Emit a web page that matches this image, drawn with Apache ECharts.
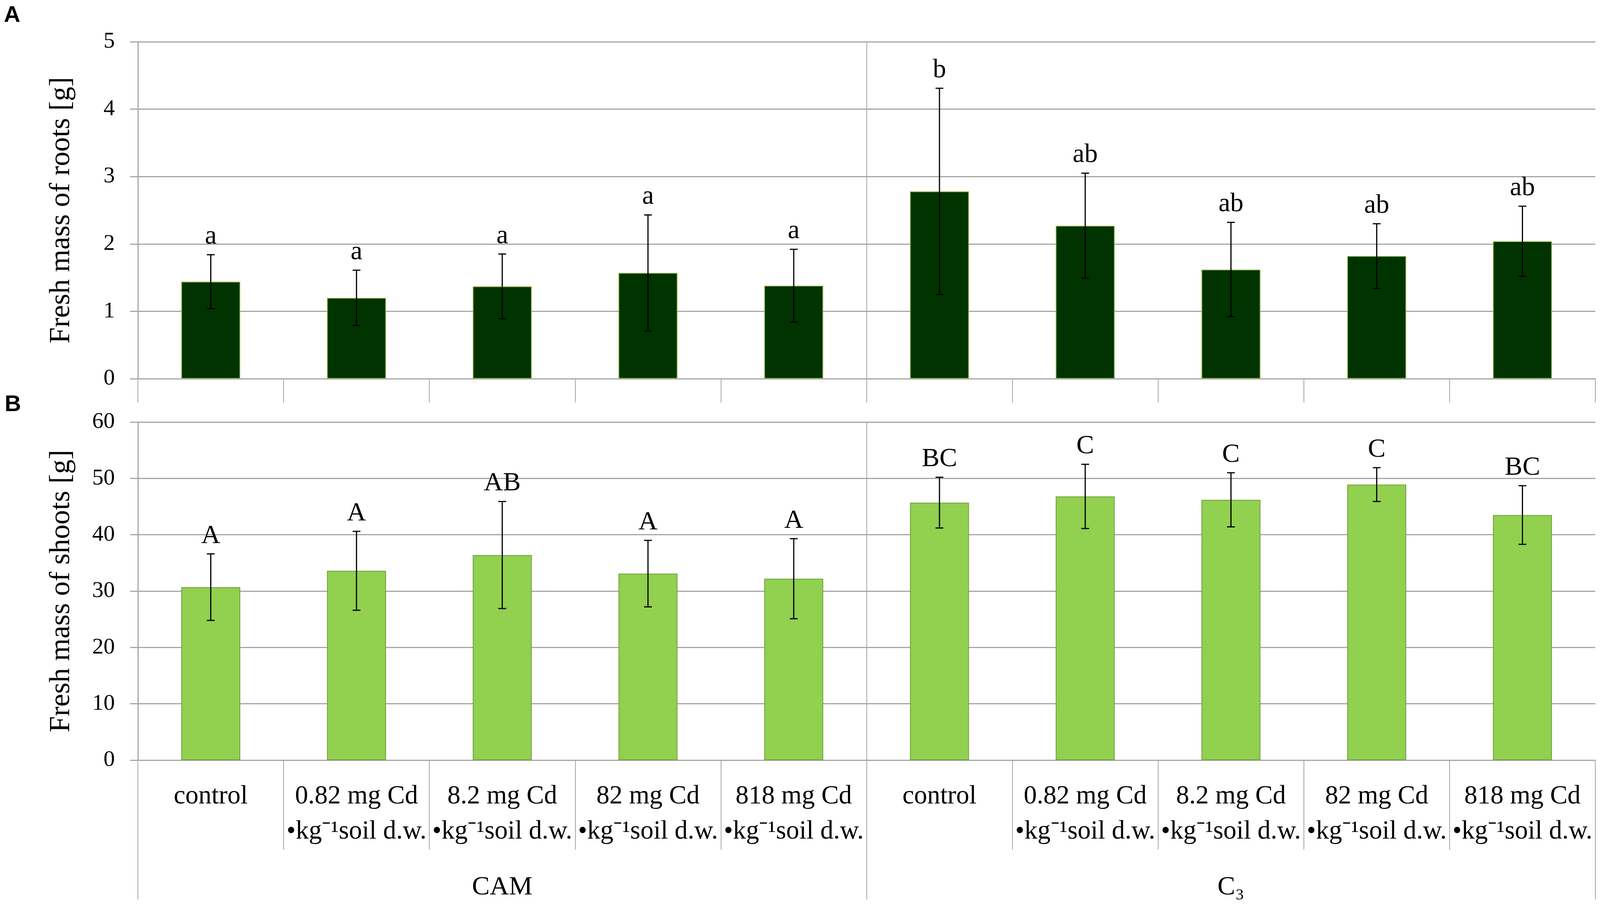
<!DOCTYPE html>
<html>
<head>
<meta charset="utf-8">
<title>Fresh mass of roots and shoots</title>
<script src="https://cdn.jsdelivr.net/npm/echarts@6/dist/echarts.min.js"></script>
<style>
    html, body { margin: 0; padding: 0; background: #fff; overflow: hidden; }
    #chart { width: 100vw; height: 100vh; }
</style>
</head>
<body>
<div id="chart"></div>
<script>
// categories (5 CAM + 5 C3)
var categories = [
    'control\n ',
    '0.82 mg Cd\n•kg⁻¹soil d.w.',
    '8.2 mg Cd\n•kg⁻¹soil d.w.',
    '82 mg Cd\n•kg⁻¹soil d.w.',
    '818 mg Cd\n•kg⁻¹soil d.w.',
    'control\n ',
    '0.82 mg Cd\n•kg⁻¹soil d.w.',
    '8.2 mg Cd\n•kg⁻¹soil d.w.',
    '82 mg Cd\n•kg⁻¹soil d.w.',
    '818 mg Cd\n•kg⁻¹soil d.w.'
];
var groups = ['CAM', 'C₃'];

// panel A - roots
var rootsMean = [1.44, 1.20, 1.37, 1.57, 1.38, 2.78, 2.27, 1.62, 1.82, 2.04];
var rootsErr = [0.40, 0.41, 0.48, 0.86, 0.54, 1.53, 0.78, 0.70, 0.48, 0.52];
var rootsLetters = ['a', 'a', 'a', 'a', 'a', 'b', 'ab', 'ab', 'ab', 'ab'];

// panel B - shoots
var shootsMean = [30.7, 33.6, 36.4, 33.1, 32.2, 45.7, 46.8, 46.2, 48.9, 43.5];
var shootsErr = [5.9, 7.0, 9.5, 5.9, 7.1, 4.5, 5.7, 4.8, 3.0, 5.2];
var shootsLetters = ['A', 'A', 'AB', 'A', 'A', 'BC', 'C', 'C', 'C', 'BC'];

var serif = "'Liberation Serif', 'Times New Roman', serif";
var sans = "'Liberation Sans', Arial, sans-serif";
var gridGray = '#a6a6a6';

var dom = document.getElementById('chart');
// layout is designed for 4550 x 2336, scaled to the real window
var kx = dom.clientWidth / 4550;
var ky = dom.clientHeight / 2336;
var k = Math.min(kx, ky);
function X(v) { return Math.round(v * kx); }
function Y(v) { return Math.round(v * ky); }
function F(v) { return Math.round(v * k); }

function errData(mean, err) {
    var out = [];
    for (var i = 0; i < mean.length; i++) {
        out.push([i, mean[i], err[i]]);
    }
    return out;
}

function errRenderer(letters) {
    return function (params, api) {
        var i = api.value(0);
        var hi = api.coord([i, api.value(1) + api.value(2)]);
        var lo = api.coord([i, api.value(1) - api.value(2)]);
        var w = X(11);
        var st = {stroke: '#000', lineWidth: Math.max(1, F(3))};
        return {
            type: 'group',
            children: [
                {type: 'line', shape: {x1: hi[0], y1: hi[1], x2: lo[0], y2: lo[1]}, style: st},
                {type: 'line', shape: {x1: hi[0] - w, y1: hi[1], x2: hi[0] + w, y2: hi[1]}, style: st},
                {type: 'line', shape: {x1: lo[0] - w, y1: lo[1], x2: lo[0] + w, y2: lo[1]}, style: st},
                {
                    type: 'text',
                    x: hi[0],
                    y: hi[1] - Y(12),
                    style: {
                        text: letters[params.dataIndex],
                        fill: '#000',
                        font: F(76) + 'px ' + serif,
                        align: 'center',
                        verticalAlign: 'bottom'
                    }
                }
            ]
        };
    };
}

function valueAxis(gridIndex, max, interval, name) {
    return {
        type: 'value',
        gridIndex: gridIndex,
        min: 0,
        max: max,
        interval: interval,
        name: name,
        nameLocation: 'middle',
        nameRotate: 90,
        nameGap: X(176),
        nameTextStyle: {fontFamily: serif, fontSize: F(82), color: '#000'},
        axisLine: {show: true, lineStyle: {color: gridGray, width: F(3)}},
        axisTick: {show: true, length: X(22), lineStyle: {color: gridGray, width: F(3)}},
        axisLabel: {fontFamily: serif, fontSize: F(64), color: '#000', margin: X(66)},
        splitLine: {show: true, lineStyle: {color: gridGray, width: F(3)}}
    };
}

var chart = echarts.init(dom);

var option = {
    animation: false,
    backgroundColor: '#fff',
    title: [
        {text: 'A', left: X(6), top: Y(6), textStyle: {fontFamily: sans, fontWeight: 'bold', fontSize: F(64), color: '#000'}},
        {text: 'B', left: X(8), top: Y(1003), textStyle: {fontFamily: sans, fontWeight: 'bold', fontSize: F(64), color: '#000'}}
    ],
    grid: [
        {left: X(392), right: X(13), top: Y(107), height: Y(863)},
        {left: X(392), right: X(13), top: Y(1081), height: Y(866)}
    ],
    xAxis: [
        {
            type: 'category',
            gridIndex: 0,
            data: categories,
            axisLine: {show: true, lineStyle: {color: gridGray, width: F(3)}},
            axisTick: {show: true, interval: 0, length: Y(61), lineStyle: {color: gridGray, width: F(2)}},
            axisLabel: {show: false},
            splitLine: {show: false}
        },
        {
            type: 'category',
            gridIndex: 0,
            data: groups,
            position: 'bottom',
            axisLine: {show: false},
            axisTick: {show: false},
            axisLabel: {show: false},
            splitLine: {show: true, showMinLine: false, showMaxLine: false, interval: 0, lineStyle: {color: gridGray, width: F(2)}}
        },
        {
            type: 'category',
            gridIndex: 1,
            data: categories,
            axisLine: {show: true, lineStyle: {color: gridGray, width: F(3)}},
            axisTick: {show: true, interval: 0, length: Y(229), lineStyle: {color: gridGray, width: F(2)}},
            axisLabel: {interval: 0, fontFamily: serif, fontSize: F(74), lineHeight: Y(90), margin: Y(48), color: '#000'},
            splitLine: {show: false}
        },
        {
            type: 'category',
            gridIndex: 1,
            data: groups,
            position: 'bottom',
            axisLine: {show: false},
            axisTick: {show: true, interval: 0, length: Y(357), lineStyle: {color: gridGray, width: F(2)}},
            axisLabel: {interval: 0, fontFamily: serif, fontSize: F(76), lineHeight: Y(76), margin: Y(288), color: '#000'},
            splitLine: {show: true, showMinLine: false, showMaxLine: false, interval: 0, lineStyle: {color: gridGray, width: F(2)}}
        }
    ],
    yAxis: [
        valueAxis(0, 5, 1, 'Fresh mass of roots [g]'),
        valueAxis(1, 60, 10, 'Fresh mass of shoots [g]')
    ],
    series: [
        {
            type: 'bar',
            xAxisIndex: 0,
            yAxisIndex: 0,
            data: rootsMean,
            barWidth: X(168),
            itemStyle: {color: '#003300', borderColor: '#8db04a', borderWidth: F(2)}
        },
        {
            type: 'custom',
            xAxisIndex: 0,
            yAxisIndex: 0,
            data: errData(rootsMean, rootsErr),
            renderItem: errRenderer(rootsLetters),
            z: 5
        },
        {
            type: 'bar',
            xAxisIndex: 2,
            yAxisIndex: 1,
            data: shootsMean,
            barWidth: X(168),
            itemStyle: {color: '#92d050', borderColor: '#6f9e3a', borderWidth: F(2)}
        },
        {
            type: 'custom',
            xAxisIndex: 2,
            yAxisIndex: 1,
            data: errData(shootsMean, shootsErr),
            renderItem: errRenderer(shootsLetters),
            z: 5
        }
    ]
};

chart.setOption(option);
window.onresize = function () {
    chart.resize();
};
</script>
</body>
</html>
